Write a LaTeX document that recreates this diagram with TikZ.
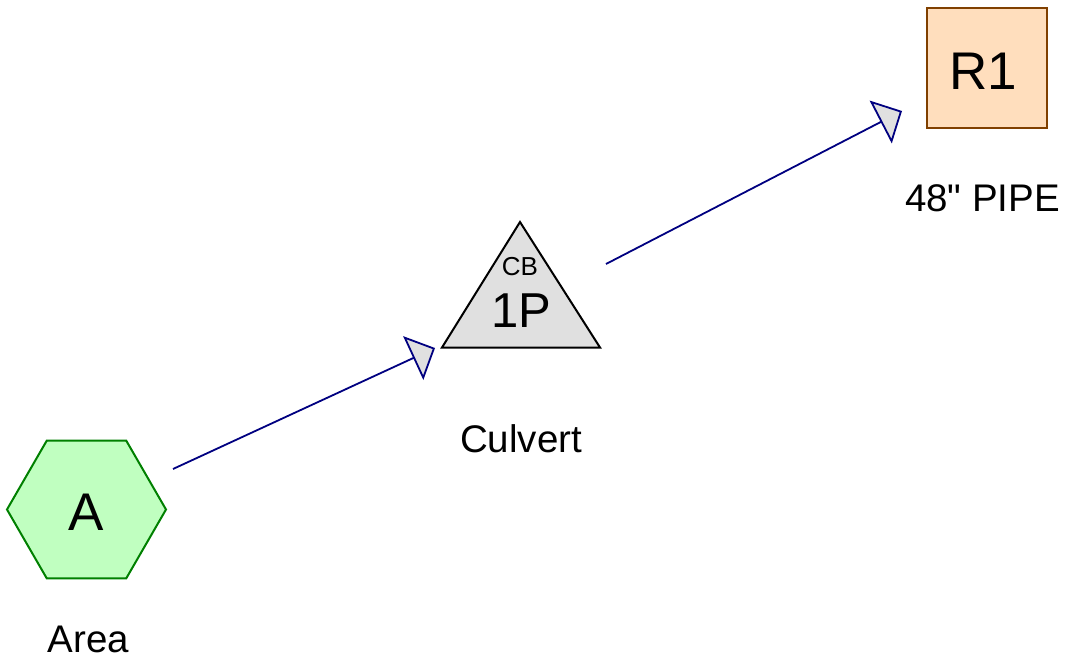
\documentclass[tikz,border=0pt]{standalone}
\usepackage{fontspec}
\setmainfont{Liberation Sans}
\newfontfamily\plainsans{Liberation Sans}
\usetikzlibrary{arrows.meta,shapes.geometric}
\definecolor{hexfill}{HTML}{C0FFC0}
\definecolor{hexline}{HTML}{008000}
\definecolor{trifill}{HTML}{E0E0E0}
\definecolor{sqfill}{HTML}{FFDEBD}
\definecolor{sqline}{HTML}{804000}
\definecolor{flowc}{HTML}{000080}
\begin{document}
\begin{tikzpicture}[x=1pt,y=-1pt,
  flow/.style={draw=flowc,line width=1.8pt,-{Triangle[length=24pt,width=48pt,fill=trifill]}},
  lbl/.style={anchor=base,inner sep=0pt,font=\plainsans\fontsize{38.5}{40}\selectfont},
  big/.style={anchor=base,inner sep=0pt,font=\fontsize{53}{56}\selectfont},
  shapeline/.style={line width=2pt}]
\useasboundingbox (0,0) rectangle (1071,663);
% Area A
\node[regular polygon,regular polygon sides=6,minimum size=159pt,inner sep=0pt,
      fill=hexfill,draw=hexline,shapeline] (hexA) at (86.5,509.5) {};
\node[big] (txtA) at (86,530) {A};
\node[lbl] (lblA) at (88.5,652) {Area};
% Culvert 1P
\draw[fill=trifill,draw=black,shapeline] (520,222) -- (600,347.5) -- (442,347.5) -- cycle;
\node[anchor=base,inner sep=0pt,font=\fontsize{26}{28}\selectfont] (txtCB) at (520,276) {CB};
\node[anchor=base,inner sep=0pt,font=\fontsize{49}{52}\selectfont] (txtP) at (521,327) {1P};
\node[lbl] (lblP) at (521,452) {Culvert};
% Reach R1
\node[rectangle,minimum size=120pt,inner sep=0pt,fill=sqfill,draw=sqline,shapeline] (sqR) at (986.5,68) {};
\node[big] (txtR) at (983.5,90) {R1};
\node[lbl] (lblR) at (982.5,212) {48" PIPE};
% flows
\coordinate (f1s) at (173,469);
\coordinate (f1e) at (435,348);
\coordinate (f2s) at (606,264);
\coordinate (f2e) at (902,111);
\draw[flow] (f1s) -- (f1e);
\draw[flow] (f2s) -- (f2e);
\end{tikzpicture}
\end{document}
